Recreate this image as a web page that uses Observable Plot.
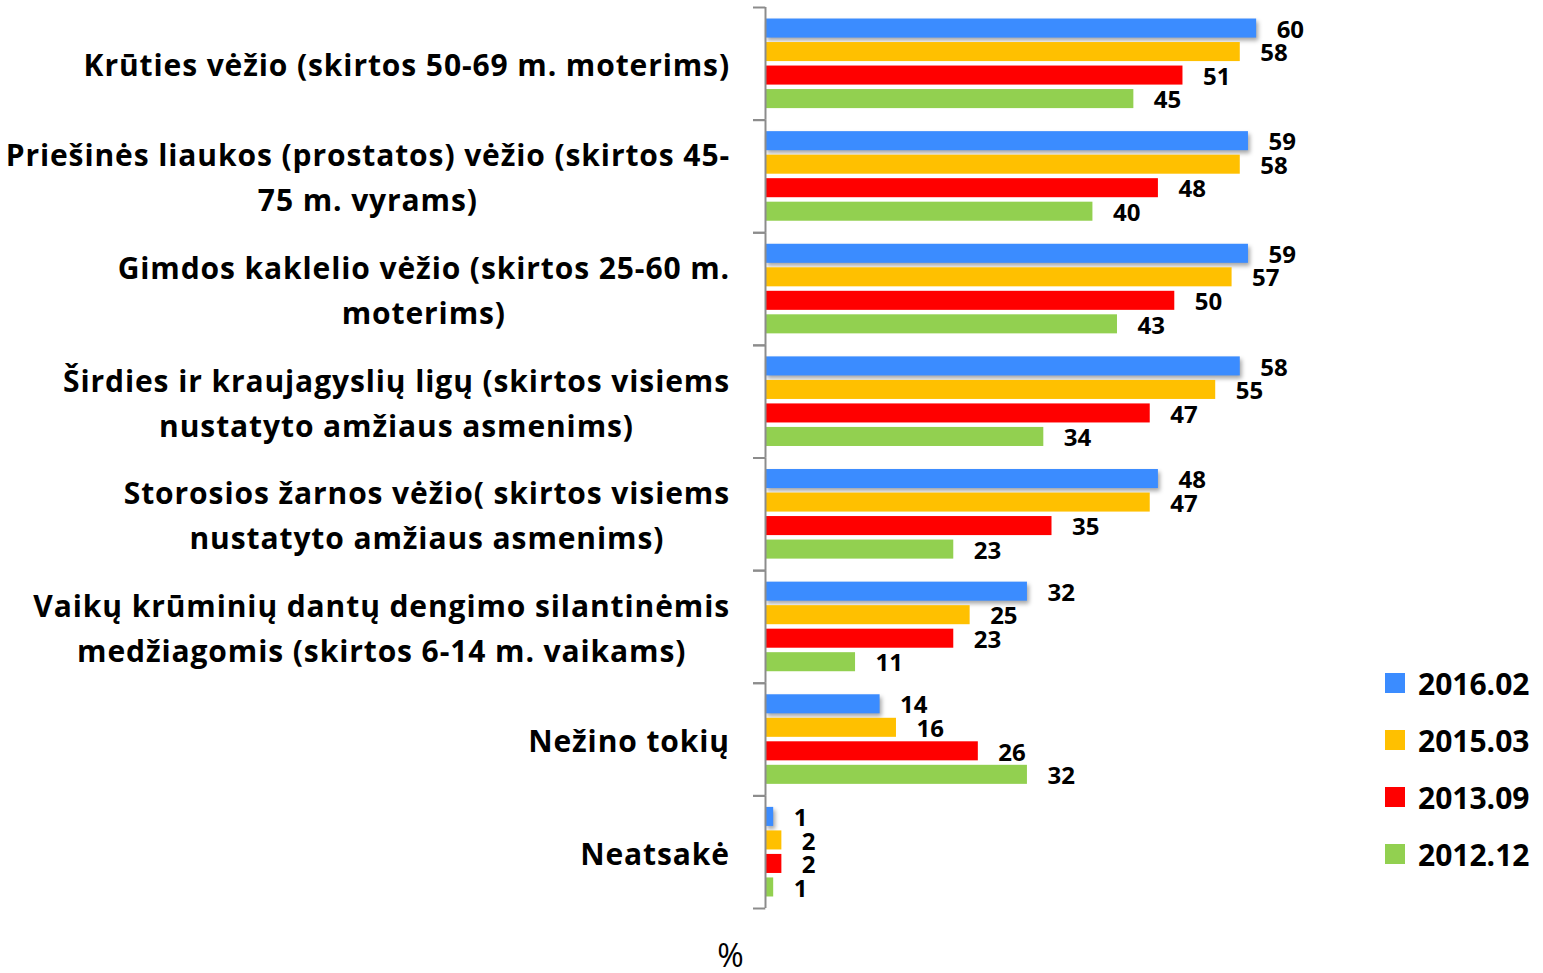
<!DOCTYPE html>
<html>
<head>
<meta charset="utf-8">
<script src="https://cdn.jsdelivr.net/npm/d3@7"></script>
<script src="https://cdn.jsdelivr.net/npm/@observablehq/plot@0.6"></script>
<style>
  html, body { margin: 0; padding: 0; background: #fff; }
  #wrap { position: relative; width: 1543px; height: 973px; font-family: "Open Sans", Lato, sans-serif; }
  .leg { position: absolute; left: 1385px; height: 34px; display: flex; align-items: center; font-weight: bold; font-size: 30px; color: #000; }
  .leg .sw { width: 20px; height: 20px; margin-right: 13px; }
</style>
</head>
<body>
<div id="wrap"></div>
<script>
const categories = [
  "Krūties vėžio (skirtos 50-69 m. moterims)",
  "Priešinės liaukos (prostatos) vėžio (skirtos 45-\n75 m. vyrams)",
  "Gimdos kaklelio vėžio (skirtos 25-60 m.\nmoterims)",
  "Širdies ir kraujagyslių ligų (skirtos visiems\nnustatyto amžiaus asmenims)",
  "Storosios žarnos vėžio( skirtos visiems\nnustatyto amžiaus asmenims)",
  "Vaikų krūminių dantų dengimo silantinėmis\nmedžiagomis (skirtos 6-14 m. vaikams)",
  "Nežino tokių",
  "Neatsakė"
];
const series = ["2016.02", "2015.03", "2013.09", "2012.12"];
const v2016 = [60, 59, 59, 58, 48, 32, 14, 1];
const v2015 = [58, 58, 57, 55, 47, 25, 16, 2];
const v2013 = [51, 48, 50, 47, 35, 23, 26, 2];
const v2012 = [45, 40, 43, 34, 23, 11, 32, 1];
const colors = ["#3B8CFF", "#FFC000", "#FF0000", "#92D050"];
const axisLabel = "%";

const valuesBySeries = [v2016, v2015, v2013, v2012];
const data = categories.flatMap((c, i) => series.map((s, j) => ({category: c, series: s, value: valuesBySeries[j][i]})));

// layout constants
const H = 973, MT = 7, MB = 65;
const PI = 0.19, PO = 0.49;
const band = (H - MT - MB) / categories.length;
const step = band / (series.length - PI + 2 * PO);
const bw = step * (1 - PI);
const edgeOffset = PO * step + bw / 2;
const FONT = "'Open Sans', Lato, sans-serif";

const chart = Plot.plot({
  width: 1543,
  height: H,
  marginLeft: 765,
  marginRight: 205,
  marginTop: MT,
  marginBottom: MB,
  style: {fontFamily: FONT, background: "#fff", overflow: "visible"},
  x: {domain: [0, 70], axis: null},
  y: {domain: series, axis: null, paddingInner: PI, paddingOuter: PO, round: false},
  fy: {domain: categories, axis: null, paddingInner: 0, paddingOuter: 0, round: false},
  color: {domain: series, range: colors},
  marks: [
    Plot.barX(data, {x: "value", y: "series", fy: "category", fill: "series"}),
    Plot.ruleX(categories, {fy: d => d, x: 0, stroke: "#8c8c8c", strokeWidth: 2}),
    Plot.ruleY(categories, {fy: d => d, y: () => series[0], x1: 0, x2: 1.5, dx: -12, dy: -edgeOffset, stroke: "#8c8c8c", strokeWidth: 2}),
    Plot.ruleY(categories, {fy: d => d, y: () => series[series.length - 1], x1: 0, x2: 1.5, dx: -12, dy: edgeOffset, stroke: "#8c8c8c", strokeWidth: 2}),
    Plot.text(data, {x: "value", y: "series", fy: "category", text: d => String(d.value), dx: 20, dy: 1.5, textAnchor: "start", fontSize: 24, fontWeight: "bold", fill: "#000"}),
    Plot.text(categories, {fy: d => d, text: d => d, frameAnchor: "left", dx: -35, dy: -2, textAnchor: "middle", lineHeight: 1.5, fontSize: 30, fontWeight: "bold", fill: "#000"}),
    Plot.text([axisLabel], {fy: () => categories[categories.length - 1], x: 0, text: d => d, frameAnchor: "bottom", dy: 58, dx: -35, fontSize: 32, fill: "#000"})
  ]
});

const wrap = document.getElementById("wrap");
wrap.appendChild(chart);

// right-align category label blocks at x = 730 (lines centered among themselves)
const flat = new Set(categories.map(c => c.replace(/\n/g, "")));
const svgRect = chart.getBoundingClientRect();
chart.querySelectorAll("text").forEach(t => {
  if (!flat.has(t.textContent.replace(/\n/g, ""))) return;
  t.style.letterSpacing = "0.9px";
  const r = t.getBoundingClientRect();
  const shift = 730 - (r.right - svgRect.left);
  const tr = t.getAttribute("transform") || "";
  t.setAttribute("transform", `translate(${shift},0) ${tr}`.trim());
});
// soft shadow on front series bars
chart.querySelectorAll("rect").forEach(r => {
  const f = getComputedStyle(r).fill;
  if (f === "rgb(59, 140, 255)") r.style.filter = "drop-shadow(2px 3px 2px rgba(0,0,0,0.35))";
});

// legend
const legendCenters = [683, 740, 797, 854];
series.forEach((s, i) => {
  const el = document.createElement("div");
  el.className = "leg";
  el.style.top = (legendCenters[i] - 17) + "px";
  const sw = document.createElement("div");
  sw.className = "sw";
  sw.style.background = colors[i];
  const tx = document.createElement("span");
  tx.textContent = s;
  el.appendChild(sw); el.appendChild(tx);
  wrap.appendChild(el);
});
</script>
</body>
</html>
